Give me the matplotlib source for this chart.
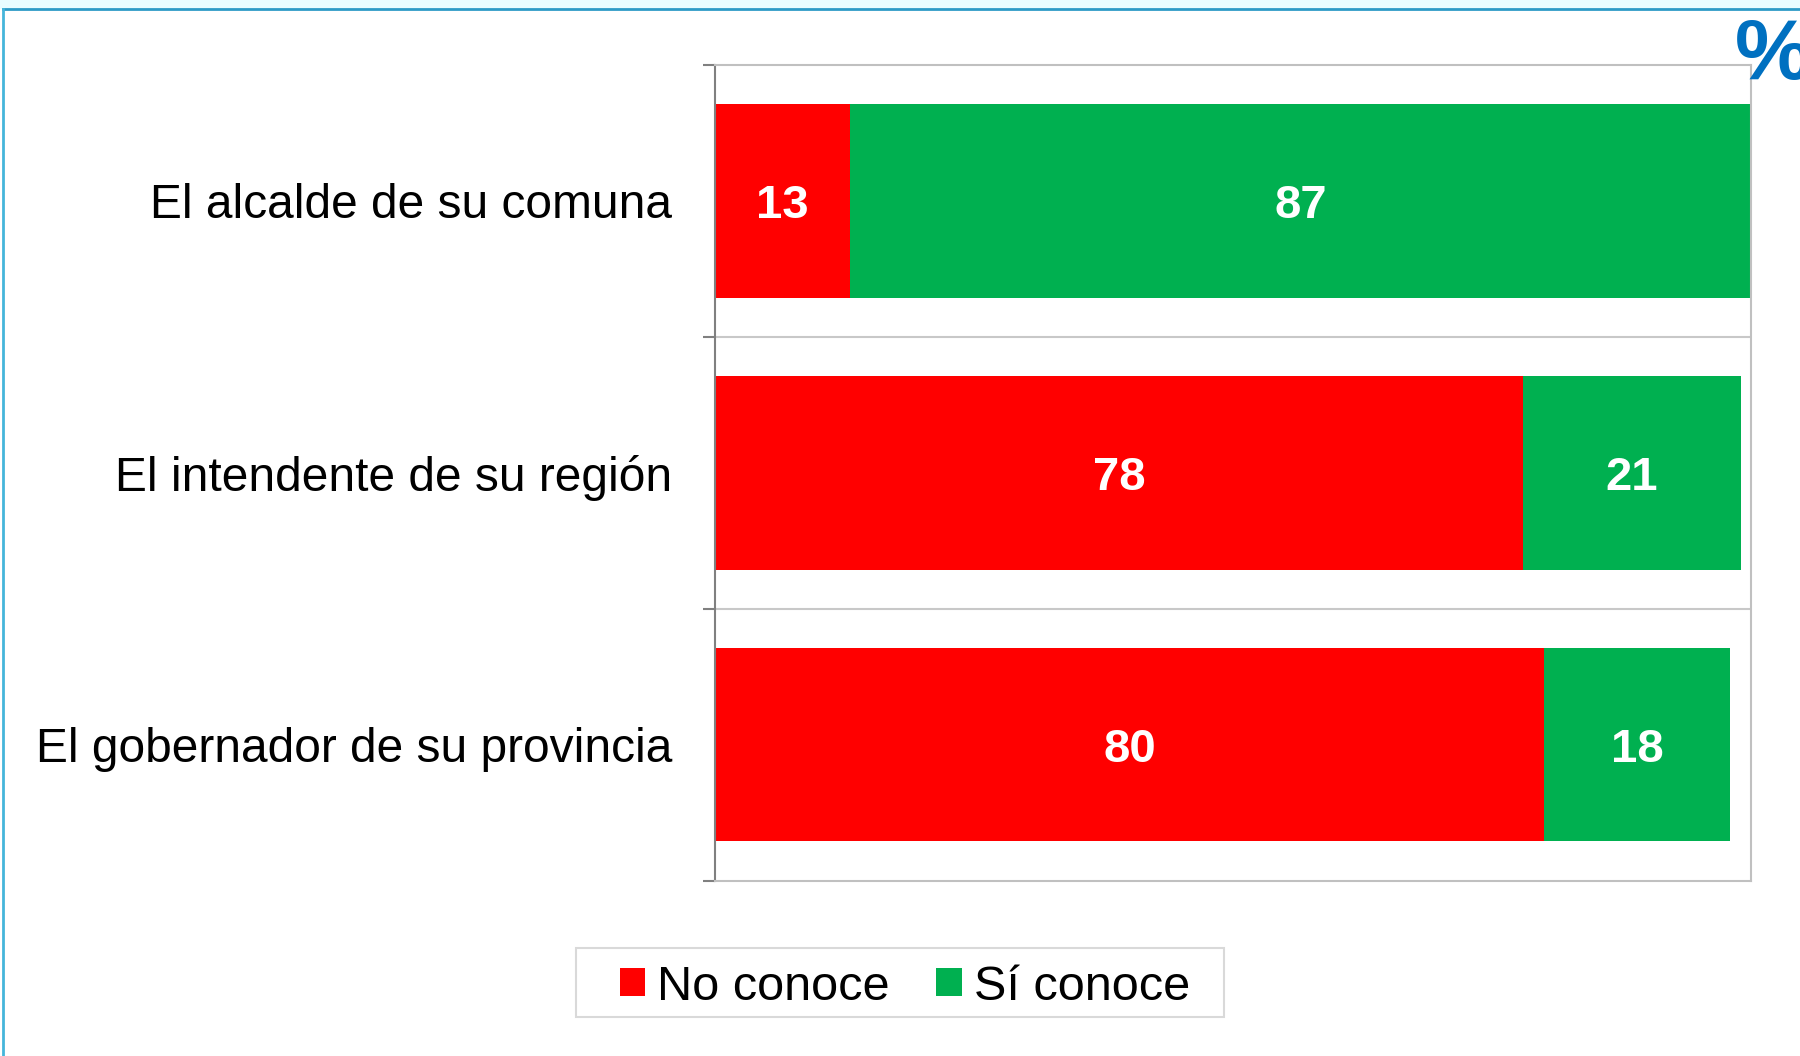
import matplotlib.pyplot as plt
from matplotlib.patches import Patch, Rectangle
from matplotlib.lines import Line2D

# datos
categorias = ['El alcalde de su comuna', 'El intendente de su región', 'El gobernador de su provincia']
no_conoce = [13, 78, 80]
si_conoce = [87, 21, 18]
series = ['No conoce', 'Sí conoce']
colores = ['#FF0000', '#00B050']

plt.rcParams['font.family'] = ['Liberation Sans', 'DejaVu Sans']

fig = plt.figure(figsize=(18, 10.56), dpi=100)

# marco de la diapositiva
fig.patches.append(Rectangle((0, 1 - 9 / 1056), 1, 9 / 1056, transform=fig.transFigure,
                             facecolor='#EAFDFF', edgecolor='none'))
fig.lines.append(Line2D([3 / 1800, 1], [1 - 9 / 1056, 1 - 9 / 1056], transform=fig.transFigure,
                        color='#2E9BC6', lw=2))
fig.lines.append(Line2D([3 / 1800, 3 / 1800], [0, 1 - 9 / 1056], transform=fig.transFigure,
                        color='#45B5DA', lw=2))

ax = fig.add_axes([715 / 1800, 1 - 880.5 / 1056, 1036 / 1800, 815.5 / 1056])

y = list(range(len(categorias)))
ax.barh(y, no_conoce, height=0.713, color=colores[0], label=series[0])
ax.barh(y, si_conoce, left=no_conoce, height=0.713, color=colores[1], label=series[1])

for i in y:
    ax.text(no_conoce[i] / 2, i + 0.02, str(no_conoce[i]), ha='center', va='center',
            color='white', fontsize=34, fontweight='bold')
    ax.text(no_conoce[i] + si_conoce[i] / 2, i + 0.02, str(si_conoce[i]), ha='center', va='center',
            color='white', fontsize=34, fontweight='bold')

ax.set_xlim(0, 100)
ax.set_ylim(2.5, -0.5)
ax.set_xticks([])
ax.set_yticks(y)
ax.set_yticklabels(categorias, fontsize=34.5)
ax.tick_params(axis='y', which='major', length=0, pad=31)
ax.set_yticks([-0.5, 0.5, 1.5, 2.5], minor=True)
ax.tick_params(axis='y', which='minor', length=9, width=1.5, color='#808080')
for b in [0.5, 1.5]:
    ax.axhline(b, color='#C8C8C8', lw=1.5)
for s in ['top', 'right', 'bottom']:
    ax.spines[s].set_color('#C0C0C0')
    ax.spines[s].set_linewidth(1.5)
ax.spines['left'].set_color('#808080')
ax.spines['left'].set_linewidth(1.5)

# leyenda
fig.patches.append(Rectangle((576 / 1800, 1 - 1017 / 1056), 648 / 1800, 69 / 1056,
                             transform=fig.transFigure, facecolor='white',
                             edgecolor='#D9D9D9', lw=1.5))
handles = [Patch(facecolor=c, label=s) for c, s in zip(colores, series)]
leg = fig.legend(handles=handles, loc='center', bbox_to_anchor=(905 / 1800, 1 - 987 / 1056),
                 ncol=2, frameon=False, handlelength=0.52, handleheight=0.52,
                 handletextpad=0.25, columnspacing=0.95, borderpad=0.2, fontsize=35)

fig.text(1735 / 1800, 1 - 17 / 1056, '%', ha='left', va='top', color='#0070C0',
         fontsize=62, fontweight='bold')

fig.savefig('out.png', dpi=100)
